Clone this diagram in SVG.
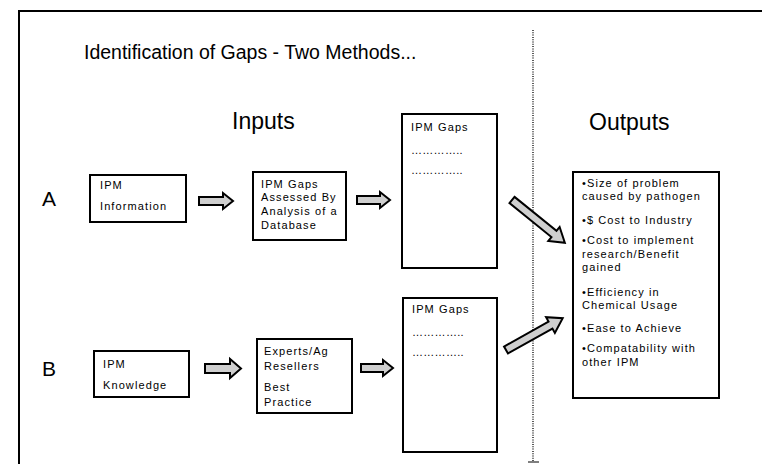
<svg xmlns="http://www.w3.org/2000/svg" width="762" height="464" viewBox="0 0 762 464">
<style>
text{font-family:"Liberation Sans",Arial,sans-serif;fill:#000}
.big{font-size:23px}
.title{font-size:19.5px}
.s{font-size:11px;letter-spacing:1.1px}
.o{font-size:11px;letter-spacing:1.1px}
.box{fill:#fff;stroke:#000;stroke-width:2}
.arr{fill:#cfcfcf;stroke:#000;stroke-width:2;stroke-linejoin:miter}
</style>
<rect width="762" height="464" fill="#fff"/>
<rect x="19" y="11" width="780" height="480" fill="none" stroke="#000" stroke-width="2"/>
<line x1="533" y1="30" x2="533" y2="462" stroke="#000" stroke-width="1.3" stroke-dasharray="1 1.3"/>
<line x1="528" y1="462" x2="539" y2="462" stroke="#000" stroke-width="1"/>
<text class="title" x="84" y="59">Identification of Gaps - Two Methods...</text>
<text class="big" x="232" y="129">Inputs</text>
<text class="big" x="589" y="130">Outputs</text>
<text class="big" x="42" y="206" style="font-size:21px">A</text>
<text class="big" x="42" y="376" style="font-size:21px">B</text>

<g id="a-info"><rect class="box" x="90" y="175" width="96" height="47"/>
<text class="s" x="100" y="189">IPM</text><text class="s" x="100" y="210">Information</text></g>
<g id="a-assess"><rect class="box" x="253" y="172" width="93" height="68"/>
<text class="s" x="261" y="188">IPM Gaps</text><text class="s" x="261" y="201">Assessed By</text><text class="s" x="261" y="215">Analysis of a</text><text class="s" x="261" y="229">Database</text></g>
<g id="a-gaps"><rect class="box" x="402" y="114" width="95" height="154"/>
<text class="s" x="411" y="131">IPM Gaps</text><text class="s" x="411" y="154" style="letter-spacing:0.3px">…………..</text><text class="s" x="411" y="174" style="letter-spacing:0.3px">…………..</text></g>

<g id="b-know"><rect class="box" x="94" y="351" width="95" height="46"/>
<text class="s" x="103" y="368">IPM</text><text class="s" x="103" y="389">Knowledge</text></g>
<g id="b-experts"><rect class="box" x="257" y="339" width="95" height="74"/>
<text class="s" x="264" y="355">Experts/Ag</text><text class="s" x="264" y="370">Resellers</text><text class="s" x="264" y="391">Best</text><text class="s" x="264" y="406">Practice</text></g>
<g id="b-gaps"><rect class="box" x="403" y="298" width="94" height="154"/>
<text class="s" x="412" y="313">IPM Gaps</text><text class="s" x="412" y="336" style="letter-spacing:0.3px">…………..</text><text class="s" x="412" y="356" style="letter-spacing:0.3px">…………..</text></g>

<g id="outputs"><rect class="box" x="573" y="172" width="146" height="226"/>
<text class="o" x="582" y="187">•Size of problem</text>
<text class="o" x="582" y="200">caused by pathogen</text>
<text class="o" x="582" y="224">•$ Cost to Industry</text>
<text class="o" x="582" y="244">•Cost to implement</text>
<text class="o" x="582" y="258">research/Benefit</text>
<text class="o" x="582" y="271">gained</text>
<text class="o" x="582" y="296">•Efficiency in</text>
<text class="o" x="582" y="309">Chemical Usage</text>
<text class="o" x="582" y="332">•Ease to Achieve</text>
<text class="o" x="582" y="352">•Compatability with</text>
<text class="o" x="582" y="366">other IPM</text></g>

<g id="connectors">
<path class="arr" transform="translate(199,201)" d="M0,-4 H24 V-8 L34,0 L24,8 V4 H0 Z"/>
<path class="arr" transform="translate(357,200)" d="M0,-4 H23 V-8 L33,0 L23,8 V4 H0 Z"/>
<path class="arr" transform="translate(205,368.5)" d="M0,-4.5 H25 V-9.5 L36,0 L25,9.5 V4.5 H0 Z"/>
<path class="arr" transform="translate(361,368)" d="M0,-4 H22 V-8 L32,0 L22,8 V4 H0 Z"/>
<path class="arr" transform="translate(512,200) rotate(39)" d="M0,-4 H54 V-9 L68,0 L54,9 V4 H0 Z"/>
<path class="arr" transform="translate(506,350) rotate(-29.3)" d="M0,-4 H51 V-9 L65,0 L51,9 V4 H0 Z"/>
</g>
</svg>
